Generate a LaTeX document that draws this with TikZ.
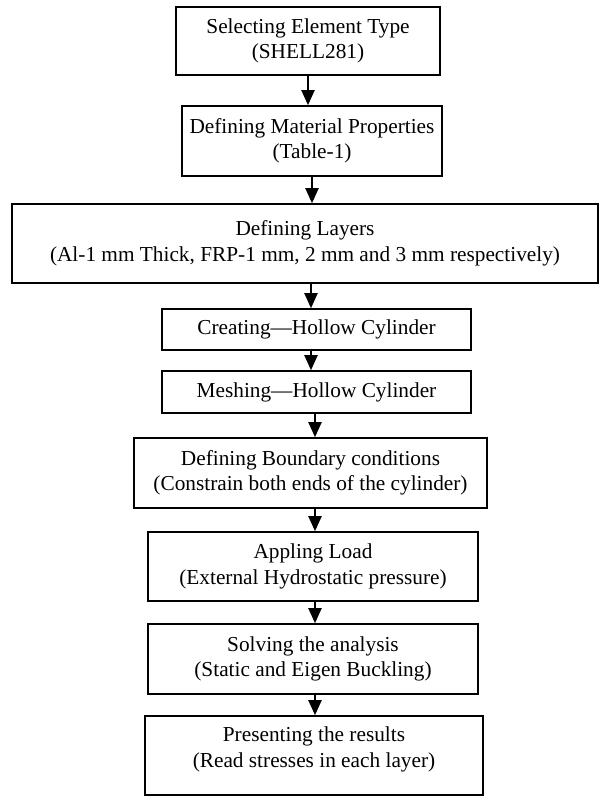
\documentclass[tikz,border=0pt]{standalone}
\usepackage{fontspec}
\setmainfont{Liberation Serif}
\usetikzlibrary{arrows.meta}
\tikzset{stepbox/.style={draw, line width=1.6pt, align=center, inner sep=0pt,
                         font=\fontsize{21.3}{25.5}\selectfont},
         flow/.style={line width=2pt, -{Triangle[width=13pt,length=15pt]}}}

\begin{document}
\begin{tikzpicture}[x=1pt,y=-1pt]
   \useasboundingbox (0,0) rectangle (600,796);
   \node[stepbox, minimum width=264, minimum height=68] (sel) at (308,41)
        {Selecting Element Type\\(SHELL281)};
   \node[stepbox, minimum width=260, minimum height=70] (mat) at (312,141)
        {Defining Material Properties\\(Table-1)};
   \node[stepbox, minimum width=586, minimum height=79] (lay) at (305,243.5)
        {Defining Layers\\(Al-1 mm Thick, FRP-1 mm, 2 mm and 3 mm respectively)};
   \node[stepbox, minimum width=309, minimum height=41] (cre) at (316.5,329.5)
        {Creating---Hollow Cylinder};
   \node[stepbox, minimum width=309, minimum height=42] (mes) at (316.5,392)
        {Meshing---Hollow Cylinder};
   \node[stepbox, minimum width=353, minimum height=70] (bnd) at (310.5,473)
        {Defining Boundary conditions\\(Constrain both ends of the cylinder)};
   \node[stepbox, minimum width=330, minimum height=69] (app) at (313,566.5)
        {Appling Load\\(External Hydrostatic pressure)};
   \node[stepbox, minimum width=330, minimum height=70] (sol) at (313,659)
        {Solving the analysis\\(Static and Eigen Buckling)};
   \node[stepbox, minimum width=338, minimum height=79] (pre) at (314,755.5)
        {Presenting the results\\(Read stresses in each layer)\\[-9pt]\mbox{}};
   \draw[flow] (sel.south) -- (sel.south |- mat.north);
   \draw[flow] (mat.south) -- (mat.south |- lay.north);
   \draw[flow] ([xshift=6]lay.south) -- ([xshift=6]lay.south |- cre.north);
   \draw[flow] ([xshift=-5.5]cre.south) -- ([xshift=-5.5]cre.south |- mes.north);
   \draw[flow] ([xshift=-1.5]mes.south) -- ([xshift=-1.5]mes.south |- bnd.north);
   \draw[flow] ([xshift=4.5]bnd.south) -- ([xshift=4.5]bnd.south |- app.north);
   \draw[flow] ([xshift=2]app.south) -- ([xshift=2]app.south |- sol.north);
   \draw[flow] ([xshift=2]sol.south) -- ([xshift=2]sol.south |- pre.north);
\end{tikzpicture}
\end{document}
